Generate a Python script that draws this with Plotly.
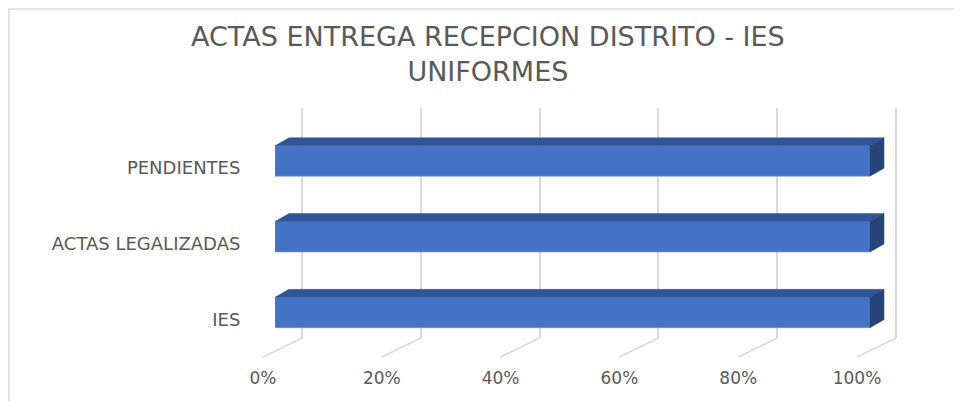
import plotly.graph_objects as go

# ---------------- data ----------------
categories = ["IES", "ACTAS LEGALIZADAS", "PENDIENTES"]
values = [1.0, 1.0, 1.0]
tick_vals = [0, 0.2, 0.4, 0.6, 0.8, 1.0]
tick_text = ["0%", "20%", "40%", "60%", "80%", "100%"]
title_text = "ACTAS ENTREGA RECEPCION DISTRITO - IES<br>UNIFORMES"

# ---------------- geometry / style ----------------
W, H = 961, 401
PAGE_OFF = 8  # page body margin in the browser


def fx(p):
    return (p - PAGE_OFF) / W


def fy(p):
    return 1 - (p - PAGE_OFF) / H


FRONT_X = (275, 870)     # front face of bars (0 .. 100%)
BACK_X = (302, 896)      # back wall gridlines
FLOOR_X = (263, 857)     # front edge of floor (tick labels)
WALL_Y = (108, 338)      # back wall top / bottom
FLOOR_Y = 357            # front floor edge
BAR_Y = (123.1, 350.4)   # y extent of category band (-0.5 .. 2.5)
DEPTH_DX, DEPTH_DY = 14, 8
BAR_W = 0.4
EXTRA = 30               # extra px on the right of the front axis for the side faces

FRONT_COLOR = "#4472c4"
TOP_COLOR = "#2f5597"
SIDE_COLOR = "#264478"
GRID = "#d9d9d9"
TEXT = "#595959"
FONT = "DejaVu Sans"

n = len(categories)
ypos = list(range(n))
front_px = FRONT_X[1] - FRONT_X[0]
back_px = BACK_X[1] - BACK_X[0]
floor_dx = BACK_X[0] - FLOOR_X[0]
ddx = DEPTH_DX / front_px
ddy = DEPTH_DY / ((BAR_Y[1] - BAR_Y[0]) / n)

fig = go.Figure()

# invisible trace to create the back-wall subplot (x / y)
fig.add_trace(go.Scatter(x=[0, 1], y=[0, 1], mode="markers",
                         marker=dict(opacity=0), hoverinfo="skip",
                         showlegend=False, xaxis="x", yaxis="y"))

# front faces of the bars
fig.add_trace(go.Bar(x=values, y=ypos, orientation="h", width=BAR_W,
                     marker=dict(color=FRONT_COLOR, line=dict(width=0.6, color="#6b8fd3")),
                     xaxis="x2", yaxis="y2", showlegend=False,
                     hovertext=categories, hoverinfo="text+x"))

# top faces
tx, ty = [], []
for v, yc in zip(values, ypos):
    t = yc + BAR_W / 2
    tx += [0, v, v + ddx, ddx, 0, None]
    ty += [t, t, t + ddy, t + ddy, t, None]
fig.add_trace(go.Scatter(x=tx, y=ty, fill="toself", fillcolor=TOP_COLOR,
                         mode="lines", line=dict(width=0.5, color=TOP_COLOR),
                         hoverinfo="skip", showlegend=False, xaxis="x2", yaxis="y2"))

# side faces
sx, sy = [], []
for v, yc in zip(values, ypos):
    b = yc - BAR_W / 2
    t = yc + BAR_W / 2
    sx += [v, v + ddx, v + ddx, v, v, None]
    sy += [b, b + ddy, t + ddy, t, b, None]
fig.add_trace(go.Scatter(x=sx, y=sy, fill="toself", fillcolor=SIDE_COLOR,
                         mode="lines", line=dict(width=0.5, color=SIDE_COLOR),
                         hoverinfo="skip", showlegend=False, xaxis="x2", yaxis="y2"))

# invisible traces for tick-label axes
fig.add_trace(go.Scatter(x=[0, 1], y=[0, 1], mode="markers", marker=dict(opacity=0),
                         hoverinfo="skip", showlegend=False, xaxis="x3", yaxis="y"))
fig.add_trace(go.Scatter(x=[0, 1], y=[0, 2], mode="markers", marker=dict(opacity=0),
                         hoverinfo="skip", showlegend=False, xaxis="x2", yaxis="y4"))

# floor lines (slanted) from back wall to front floor edge
shapes = []
for v in tick_vals:
    shapes.append(dict(type="line", xref="x", xsizemode="pixel", xanchor=v,
                       x0=0, x1=-floor_dx,
                       yref="paper", y0=fy(WALL_Y[1]), y1=fy(FLOOR_Y),
                       line=dict(color=GRID, width=1.5), layer="below"))
# outer chart border
shapes.append(dict(type="rect", xref="paper", yref="paper",
                   x0=fx(9), x1=fx(1000), y0=fy(460), y1=fy(9),
                   line=dict(color=GRID, width=1.5), fillcolor="rgba(0,0,0,0)",
                   layer="below"))

LABEL_SHIFT = 7
fig.update_layout(
    width=W, height=H,
    margin=dict(l=0, r=0, t=0, b=0, autoexpand=False),
    paper_bgcolor="white", plot_bgcolor="rgba(0,0,0,0)",
    showlegend=False,
    font=dict(family=FONT, color=TEXT),
    annotations=[dict(text=title_text, xref="paper", yref="paper",
                      x=fx(488), y=fy(54), xanchor="center", yanchor="middle",
                      showarrow=False, align="center",
                      font=dict(family=FONT, size=27, color=TEXT))],
    xaxis=dict(domain=[fx(FLOOR_X[0]), fx(BACK_X[1] + 1)],
               range=[-floor_dx / back_px, 1 + 1 / back_px],
               anchor="y", showgrid=True, gridcolor=GRID, gridwidth=1.5,
               tickvals=tick_vals, showticklabels=False, zeroline=False,
               showline=False, ticks="", fixedrange=True),
    yaxis=dict(domain=[fy(WALL_Y[1]), fy(WALL_Y[0])], range=[0, 1], anchor="x",
               visible=False, fixedrange=True),
    xaxis2=dict(domain=[fx(FRONT_X[0]), fx(FRONT_X[1] + EXTRA)],
                range=[0, 1 + EXTRA / front_px], anchor="y2",
                visible=False, fixedrange=True),
    yaxis2=dict(domain=[fy(BAR_Y[1]), fy(BAR_Y[0])], range=[-0.5, n - 0.5],
                anchor="x2", visible=False, fixedrange=True),
    xaxis3=dict(domain=[fx(FLOOR_X[0]), fx(FLOOR_X[1])], range=[0, 1],
                anchor="free", position=fy(366), side="bottom",
                tickvals=tick_vals, ticktext=tick_text, showgrid=False,
                zeroline=False, showline=False, ticks="",
                tickfont=dict(family=FONT, size=17, color=TEXT), fixedrange=True),
    yaxis4=dict(domain=[fy(BAR_Y[1] + LABEL_SHIFT), fy(BAR_Y[0] + LABEL_SHIFT)],
                range=[-0.5, n - 0.5], anchor="free", position=fx(FRONT_X[0]),
                side="left", tickvals=ypos, ticktext=categories, showgrid=False,
                zeroline=False, showline=False, ticks="outside", ticklen=31,
                tickcolor="rgba(0,0,0,0)",
                tickfont=dict(family=FONT, size=18, color=TEXT), fixedrange=True),
    shapes=shapes,
)

fig.write_html("out.html")
